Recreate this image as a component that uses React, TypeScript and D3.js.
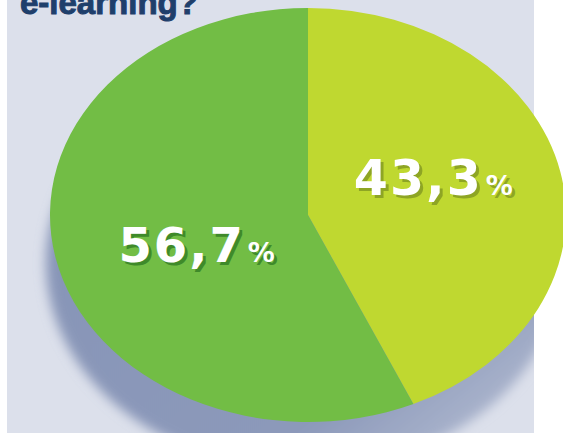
import React from "react";
import * as d3 from "d3";

const categories = ["Sì", "No"];
const values = [43.3, 56.7];
const valueLabels = ["43,3", "56,7"];
const titleText = "e-learning?";

const W = 563;
const H = 435;
const colors = ["#bfd830", "#72bd45"];
const shadowColors = ["#8ea524", "#3f8a2a"];

export default function App() {
  const cx = 308;
  const cy = 215;
  const rx = 258;
  const ry = 207;
  const sx = rx / ry;

  const pie = d3.pie<number>().sort(null).value((d) => d);
  const arcs = pie(values);
  const arc = d3.arc<d3.PieArcDatum<number>>().innerRadius(0).outerRadius(ry);
  const labelArc = d3
    .arc<d3.PieArcDatum<number>>()
    .innerRadius(ry * 0.58)
    .outerRadius(ry * 0.58);

  const labelDy = [-13, 4];
  const labelDx = [-20, 36];

  return (
    <svg
      width={W}
      height={H}
      style={{ position: "absolute", left: 0, top: 0, display: "block" }}
    >
      <defs>
        <clipPath id="panelClip">
          <rect x={7} y={0} width={527} height={433} />
        </clipPath>
        <filter id="blurShadow" x="-20%" y="-20%" width="140%" height="140%">
          <feGaussianBlur stdDeviation={6} />
        </filter>
        <linearGradient id="shGrad" x1="0" y1="0" x2="1" y2="1">
          <stop offset="0%" stopColor="#8593b6" />
          <stop offset="70%" stopColor="#8c99ba" />
          <stop offset="100%" stopColor="#c3cadb" />
        </linearGradient>
      </defs>
      <rect x={0} y={0} width={W} height={H} fill="#ffffff" />
      <rect x={7} y={0} width={527} height={433} fill="#dce0eb" />
      <g clipPath="url(#panelClip)">
        <ellipse
          cx={cx - 4}
          cy={cy + 48}
          rx={rx}
          ry={ry}
          fill="url(#shGrad)"
          filter="url(#blurShadow)"
        />
      </g>
      <text
        x={20}
        y={14}
        fontFamily="Liberation Sans, Arial, sans-serif"
        fontWeight="bold"
        fontSize={33}
        fill="#1f3f6b"
        stroke="#1f3f6b"
        strokeWidth={1}
      >
        {titleText}
      </text>
      <g transform={`translate(${cx},${cy}) scale(${sx},1)`}>
        {arcs.map((a, i) => (
          <path key={categories[i]} d={arc(a) || ""} fill={colors[i]} />
        ))}
      </g>
      {arcs.map((a, i) => {
        const [lx, ly] = labelArc.centroid(a);
        const x = cx + lx * sx + labelDx[i];
        const y = cy + ly + labelDy[i] + 18;
        const t = (
          <>
            <tspan fontSize={i === 0 ? 49 : 48}>{valueLabels[i]}</tspan>
            <tspan fontSize={27} dx={3}>%</tspan>
          </>
        );
        return (
          <g key={"l" + i} fontFamily="DejaVu Sans, Verdana, sans-serif" fontWeight="bold">
            <text x={x + 3} y={y + 3} textAnchor="middle" fill={shadowColors[i]} letterSpacing={2}>
              {t}
            </text>
            <text x={x} y={y} textAnchor="middle" fill="#ffffff" letterSpacing={2}>
              {t}
            </text>
          </g>
        );
      })}
    </svg>
  );
}
